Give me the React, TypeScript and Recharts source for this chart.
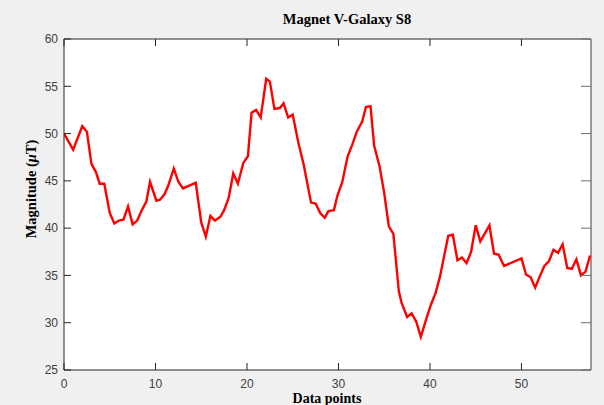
import React from 'react';
import { LineChart, Line, XAxis, YAxis, CartesianGrid, ReferenceLine } from 'recharts';

const W = 604;
const H = 405;
const MARGIN = { top: 39, right: 13, left: 0, bottom: 0 };
const Y_AXIS_W = 64;
const X_AXIS_H = 35;
const PLOT_TOP = MARGIN.top;
const PLOT_RIGHT = W - MARGIN.right;
const X_TICK_MARGIN = 9;
const Y_TICK_MARGIN = 6;
const TICK_LEN = 7;
const RIGHT_TICK_LEN = 10;

const xValues = [
  0, 1.0, 2.0, 2.5, 3.0, 3.5, 3.9, 4.4, 5.0, 5.5,
  6.0, 6.5, 7.0, 7.5, 8.0, 8.5, 9.0, 9.4, 10.1, 10.5,
  11.0, 11.4, 12.0, 12.5, 13.0, 14.4, 15.0, 15.5, 16.0, 16.5,
  17.1, 17.5, 18.0, 18.5, 19.0, 19.6, 20.1, 20.5, 21.0, 21.5,
  22.1, 22.5, 23.0, 23.6, 24.0, 24.5, 25.0, 25.6, 26.2, 27.0,
  27.5, 28.0, 28.5, 28.9, 29.5, 29.9, 30.4, 31.0, 31.5, 32.0,
  32.6, 33.0, 33.5, 33.9, 34.5, 35.0, 35.5, 36.0, 36.6, 36.9,
  37.5, 38.0, 38.5, 39.0, 39.6, 40.1, 40.6, 41.1, 41.6, 42.0,
  42.5, 43.0, 43.5, 44.0, 44.5, 45.0, 45.5, 46.5, 47.0, 47.5,
  48.1, 50.0, 50.5, 51.0, 51.5, 52.0, 52.5, 53.0, 53.5, 54.0,
  54.5, 55.0, 55.5, 56.0, 56.5, 57.0, 57.5,
];

const magnitudes = [
  50.0, 48.3, 50.8, 50.2, 46.8, 45.9, 44.7, 44.7, 41.6, 40.5,
  40.8, 40.9, 42.3, 40.4, 40.8, 41.9, 42.8, 44.9, 42.9, 43.0,
  43.6, 44.5, 46.3, 44.9, 44.2, 44.8, 40.6, 39.1, 41.3, 40.8,
  41.2, 41.9, 43.2, 45.8, 44.7, 46.9, 47.6, 52.2, 52.5, 51.7,
  55.8, 55.5, 52.6, 52.7, 53.2, 51.7, 52.0, 49.1, 46.7, 42.7,
  42.6, 41.6, 41.1, 41.8, 41.9, 43.5, 44.8, 47.6, 48.8, 50.2,
  51.3, 52.8, 52.9, 48.7, 46.5, 43.7, 40.2, 39.4, 33.3, 32.1,
  30.6, 31.0, 30.1, 28.5, 30.4, 31.9, 33.1, 34.9, 37.3, 39.2,
  39.3, 36.6, 36.9, 36.3, 37.5, 40.3, 38.6, 40.3, 37.3, 37.2,
  36.0, 36.8, 35.1, 34.8, 33.7, 34.9, 36.0, 36.5, 37.7, 37.4,
  38.3, 35.8, 35.7, 36.7, 35.0, 35.4, 37.1,
];

const xTicks = [0, 10, 20, 30, 40, 50];
const yTicks = [25, 30, 35, 40, 45, 50, 55, 60];
const xDomain: [number, number] = [0, 57.6];
const yDomain: [number, number] = [25, 60];

const data = xValues.map((x, i) => ({ x, m: magnitudes[i] }));

const TICK_FONT = '"Liberation Sans", Arial, Helvetica, sans-serif';
const LABEL_FONT = '"Liberation Serif", "Times New Roman", Times, serif';
const AXIS_COLOR = '#262626';
const TICK_TEXT = '#404040';

const XTick = (props: any) => {
  const { x, y, payload } = props;
  const axisY = y - X_TICK_MARGIN;
  return (
    <g>
      <line x1={x} x2={x} y1={axisY} y2={axisY - TICK_LEN} stroke={AXIS_COLOR} strokeWidth={1} />
      <line x1={x} x2={x} y1={PLOT_TOP} y2={PLOT_TOP + TICK_LEN} stroke={AXIS_COLOR} strokeWidth={1} />
      <text x={x} y={y} dy="0.71em" textAnchor="middle" fontFamily={TICK_FONT} fontSize={12} fill={TICK_TEXT}>
        {payload.value}
      </text>
    </g>
  );
};

const YTick = (props: any) => {
  const { x, y, payload } = props;
  const axisX = x + Y_TICK_MARGIN;
  return (
    <g>
      <line x1={axisX} x2={axisX + TICK_LEN} y1={y} y2={y} stroke={AXIS_COLOR} strokeWidth={1} />
      <line x1={PLOT_RIGHT - RIGHT_TICK_LEN} x2={PLOT_RIGHT} y1={y} y2={y} stroke="#6e6e6e" strokeWidth={1} />
      <text x={x} y={y} dy="0.355em" textAnchor="end" fontFamily={TICK_FONT} fontSize={12} fill={TICK_TEXT}>
        {payload.value}
      </text>
    </g>
  );
};

export default function App() {
  return (
    <div style={{ position: 'absolute', left: 0, top: 0, width: W, height: H, background: '#f0f0f0' }}>
      <LineChart width={W} height={H} data={data} margin={MARGIN}>
        <CartesianGrid horizontal={false} vertical={false} fill="#ffffff" stroke="none" />
        <XAxis
          type="number"
          dataKey="x"
          domain={xDomain}
          ticks={xTicks}
          allowDataOverflow
          height={X_AXIS_H}
          tickSize={0}
          tickMargin={X_TICK_MARGIN}
          tick={<XTick />}
          axisLine={{ stroke: AXIS_COLOR, strokeWidth: 1 }}
          tickLine={false}
        />
        <YAxis
          type="number"
          domain={yDomain}
          ticks={yTicks}
          allowDataOverflow
          width={Y_AXIS_W}
          tickSize={0}
          tickMargin={Y_TICK_MARGIN}
          tick={<YTick />}
          axisLine={{ stroke: AXIS_COLOR, strokeWidth: 1 }}
          tickLine={false}
        />
        <ReferenceLine y={60} stroke={AXIS_COLOR} strokeWidth={1} />
        <ReferenceLine x={57.6} stroke="#7a7a7a" strokeWidth={1.5} />
        <Line
          type="linear"
          dataKey="m"
          stroke="#ff0000"
          strokeWidth={2.4}
          dot={false}
          activeDot={false}
          isAnimationActive={false}
        />
        <text x={347} y={24} textAnchor="middle" fontFamily={LABEL_FONT} fontWeight="bold" fontSize={14.5} fill="#000">
          Magnet V-Galaxy S8
        </text>
        <text x={327} y={403} textAnchor="middle" fontFamily={LABEL_FONT} fontWeight="bold" fontSize={14} fill="#000">
          Data points
        </text>
        <text
          x={0}
          y={0}
          transform="translate(36, 189) rotate(-90)"
          textAnchor="middle"
          fontFamily={LABEL_FONT}
          fontWeight="bold"
          fontSize={14.5}
          fill="#000"
        >
          Magnitude (<tspan fontStyle="italic">μ</tspan>T)
        </text>
      </LineChart>
    </div>
  );
}
